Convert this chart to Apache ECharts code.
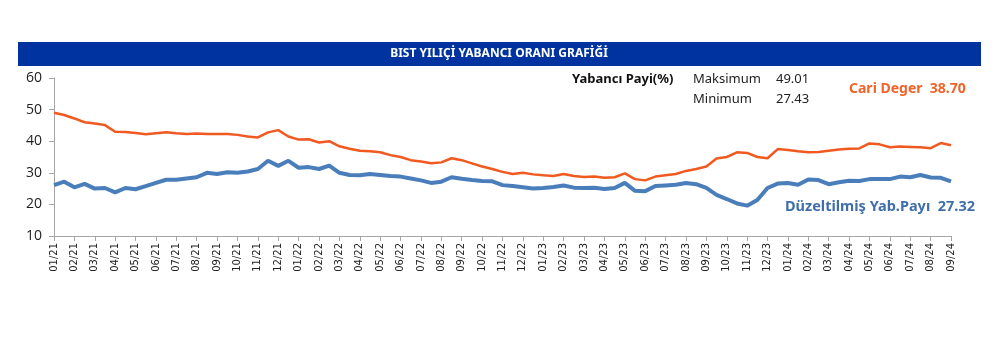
<!DOCTYPE html>
<html>
<head>
<meta charset="utf-8">
<script src="https://cdn.jsdelivr.net/npm/echarts@6/dist/echarts.min.js"></script>
<style>
  html, body { margin: 0; padding: 0; background: #fff; }
  #chart { width: 1002px; height: 344px; }
</style>
</head>
<body>
<div id="chart"></div>
<script>
// ay etiketleri (her ay basi + ay ortasi bir nokta)
var months = ['01/21', '02/21', '03/21', '04/21', '05/21', '06/21', '07/21', '08/21', '09/21', '10/21', '11/21', '12/21',
  '01/22', '02/22', '03/22', '04/22', '05/22', '06/22', '07/22', '08/22', '09/22', '10/22', '11/22', '12/22',
  '01/23', '02/23', '03/23', '04/23', '05/23', '06/23', '07/23', '08/23', '09/23', '10/23', '11/23', '12/23',
  '01/24', '02/24', '03/24', '04/24', '05/24', '06/24', '07/24', '08/24', '09/24']

// Yabanci payi (%) - yarim ay araliklarla
var cariDeger = [49.0, 48.3, 47.2, 46.0, 45.6, 45.1, 43.0, 42.9, 42.6, 42.2,
  42.5, 42.8, 42.5, 42.3, 42.4, 42.3, 42.3, 42.3, 42.0, 41.5,
  41.2, 42.8, 43.5, 41.5, 40.5, 40.6, 39.6, 40.0, 38.4, 37.6,
  37.0, 36.8, 36.5, 35.6, 35.0, 34.0, 33.6, 33.0, 33.3, 34.6,
  34.0, 33.0, 32.0, 31.2, 30.3, 29.6, 30.0, 29.5, 29.2, 29.0,
  29.6, 29.0, 28.7, 28.8, 28.4, 28.6, 29.8, 28.0, 27.6, 28.8,
  29.2, 29.6, 30.6, 31.2, 32.0, 34.5, 35.0, 36.5, 36.3, 35.0,
  34.6, 37.5, 37.2, 36.8, 36.5, 36.6, 37.0, 37.4, 37.6, 37.7,
  39.3, 39.0, 38.1, 38.3, 38.2, 38.1, 37.8, 39.4, 38.7]

// Duzeltilmis yabanci payi (%)
var duzeltilmis = [26.1, 27.2, 25.4, 26.5, 25.0, 25.2, 23.8, 25.2, 24.8, 25.8,
  26.8, 27.8, 27.8, 28.2, 28.6, 30.0, 29.6, 30.2, 30.0, 30.4,
  31.2, 33.8, 32.2, 33.8, 31.6, 31.8, 31.2, 32.3, 30.0, 29.3,
  29.2, 29.6, 29.3, 29.0, 28.8, 28.2, 27.6, 26.8, 27.2, 28.6,
  28.1, 27.7, 27.4, 27.3, 26.1, 25.8, 25.4, 25.0, 25.2, 25.5,
  26.0, 25.3, 25.2, 25.3, 24.9, 25.2, 26.8, 24.3, 24.2, 25.8,
  26.0, 26.2, 26.8, 26.4, 25.2, 23.0, 21.7, 20.3, 19.6, 21.4,
  25.2, 26.6, 26.8, 26.2, 27.9, 27.7, 26.4, 27.0, 27.5, 27.4,
  28.0, 28.0, 28.0, 28.8, 28.6, 29.3, 28.5, 28.4, 27.3]

var yTicks = [10, 20, 30, 40, 50, 60]

// kategori ekseni: ay basi etiketli, ay ortasi bos
var categories = []
months.forEach(function(m, i) {
  categories.push(m)
  if (i < months.length - 1) categories.push(m + ' ')
})

var orange = '#f0591f'
var blue = '#4a7ebb'

var myChart = echarts.init(document.getElementById('chart'))
var option = {
  animation: false,
  grid: {
    left: 54,
    right: 51,
    top: 78,
    bottom: 108
  },
  xAxis: {
    type: 'category',
    data: categories,
    boundaryGap: false,
    axisLine: { lineStyle: { color: '#a6a6a6', width: 1 } },
    axisTick: { interval: 1, length: 5, lineStyle: { color: '#a6a6a6' } },
    axisLabel: {
      interval: 1,
      rotate: 90,
      margin: 7,
      color: '#222',
      fontFamily: 'DejaVu Sans',
      fontSize: 10
    },
    splitLine: { show: false }
  },
  yAxis: {
    type: 'value',
    min: yTicks[0],
    max: yTicks[yTicks.length - 1],
    interval: 10,
    axisLine: { show: true, lineStyle: { color: '#a6a6a6' } },
    axisTick: { show: true, length: 5, lineStyle: { color: '#a6a6a6' } },
    axisLabel: {
      margin: 12,
      color: '#222',
      fontFamily: 'Open Sans',
      fontSize: 14
    },
    splitLine: { show: false }
  },
  series: [
    {
      name: 'Cari Deger',
      type: 'line',
      data: cariDeger,
      symbol: 'none',
      lineStyle: { color: orange, width: 2.5 },
      z: 3
    },
    {
      name: 'Düzeltilmiş Yab.Payı',
      type: 'line',
      data: duzeltilmis,
      symbol: 'none',
      lineStyle: { color: blue, width: 4 },
      z: 2
    }
  ],
  graphic: [
    {
      type: 'rect',
      shape: { x: 18, y: 42, width: 963, height: 24 },
      style: { fill: '#0033a0' }
    },
    {
      type: 'text',
      x: 499, y: 54,
      style: {
        text: 'BIST YILIÇİ YABANCI ORANI GRAFİĞİ',
        fill: '#fff',
        font: 'bold 12px "Noto Sans"',
        align: 'center',
        verticalAlign: 'middle'
      }
    },
    {
      type: 'text',
      x: 572, y: 79,
      style: { text: 'Yabancı Payi(%)', fill: '#111', font: 'bold 13px "Noto Sans"', verticalAlign: 'middle' }
    },
    {
      type: 'text',
      x: 693, y: 79,
      style: { text: 'Maksimum', fill: '#222', font: '13px "Noto Sans"', verticalAlign: 'middle' }
    },
    {
      type: 'text',
      x: 776, y: 79,
      style: { text: '49.01', fill: '#222', font: '13px "Noto Sans"', verticalAlign: 'middle' }
    },
    {
      type: 'text',
      x: 693, y: 99,
      style: { text: 'Minimum', fill: '#222', font: '13px "Noto Sans"', verticalAlign: 'middle' }
    },
    {
      type: 'text',
      x: 776, y: 99,
      style: { text: '27.43', fill: '#222', font: '13px "Noto Sans"', verticalAlign: 'middle' }
    },
    {
      type: 'text',
      x: 849, y: 89,
      style: { text: 'Cari Deger  38.70', fill: '#f0642a', font: 'bold 14px "Noto Sans"', verticalAlign: 'middle' }
    },
    {
      type: 'text',
      x: 785, y: 207,
      style: { text: 'Düzeltilmiş Yab.Payı  27.32', fill: '#3f6fab', font: 'bold 14.5px "Noto Sans"', verticalAlign: 'middle' }
    }
  ]
}
myChart.setOption(option)
</script>
</body>
</html>
